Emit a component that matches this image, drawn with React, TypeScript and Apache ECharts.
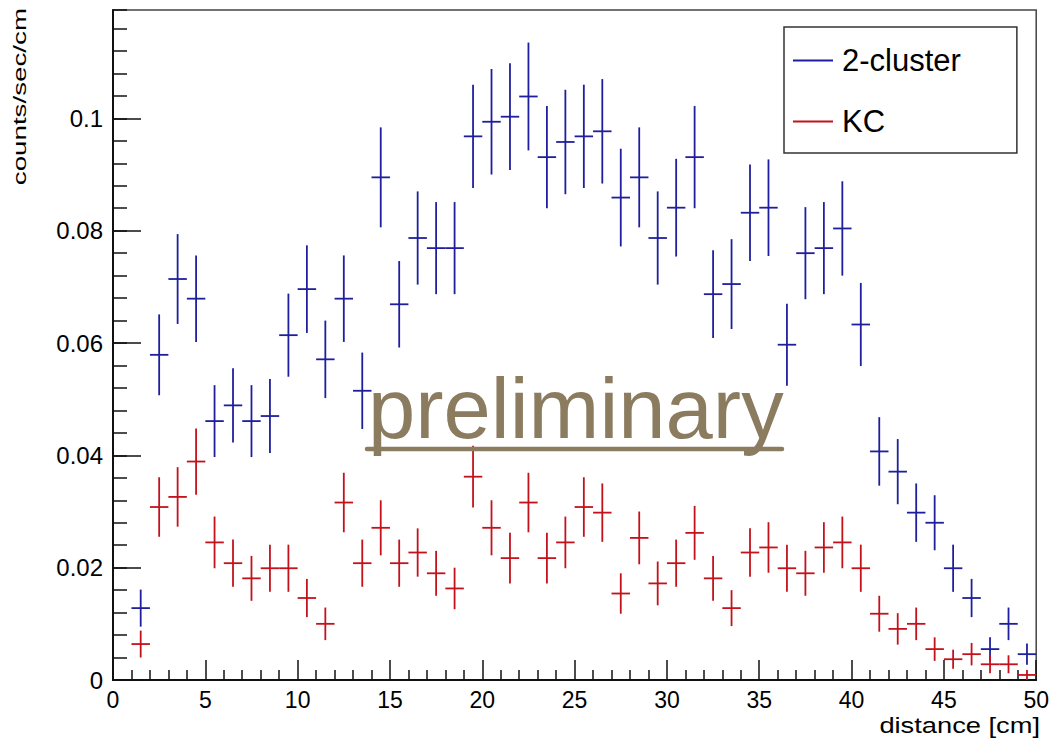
import React, { useEffect, useRef } from "react";
import * as echarts from "echarts";

const binCenters = [
  1.5, 2.5, 3.5, 4.5, 5.5, 6.5, 7.5, 8.5, 9.5, 10.5,
  11.5, 12.5, 13.5, 14.5, 15.5, 16.5, 17.5, 18.5, 19.5, 20.5,
  21.5, 22.5, 23.5, 24.5, 25.5, 26.5, 27.5, 28.5, 29.5, 30.5,
  31.5, 32.5, 33.5, 34.5, 35.5, 36.5, 37.5, 38.5, 39.5, 40.5,
  41.5, 42.5, 43.5, 44.5, 45.5, 46.5, 47.5, 48.5, 49.5,
];

const twoClusterValues = [
  0.0128, 0.0579, 0.0714, 0.0679, 0.0461, 0.0489, 0.0461, 0.047, 0.0614, 0.0696,
  0.0571, 0.0679, 0.0515, 0.0895, 0.0669, 0.0787, 0.0769, 0.0769, 0.0968, 0.0994,
  0.1003, 0.1039, 0.0931, 0.0958, 0.0968, 0.0977, 0.0859, 0.0895, 0.0787, 0.0841,
  0.0931, 0.0687, 0.0705, 0.0832, 0.0841, 0.0597, 0.076, 0.0769, 0.0804, 0.0633,
  0.0407, 0.0371, 0.0298, 0.028, 0.0199, 0.0146, 0.0055, 0.01, 0.0046,
];
const twoClusterErrors = [
  0.0033, 0.0072, 0.008, 0.0077, 0.0064, 0.0066, 0.0064, 0.0066, 0.0074, 0.0078,
  0.0069, 0.0077, 0.0068, 0.0089, 0.0077, 0.0083, 0.0082, 0.0082, 0.0092, 0.0094,
  0.0095, 0.0096, 0.0091, 0.0093, 0.0092, 0.0093, 0.0087, 0.0089, 0.0083, 0.0087,
  0.0091, 0.0078, 0.008, 0.0086, 0.0086, 0.0073, 0.0082, 0.0082, 0.0084, 0.0074,
  0.0061, 0.0058, 0.0052, 0.0049, 0.0042, 0.0034, 0.0021, 0.0029, 0.0019,
];

const kcValues = [
  0.0064, 0.0308, 0.0326, 0.0389, 0.0245, 0.0208, 0.0181, 0.0199, 0.0199, 0.0146,
  0.01, 0.0316, 0.0208, 0.0271, 0.0208, 0.0227, 0.019, 0.0163, 0.0362, 0.0271,
  0.0217, 0.0316, 0.0217, 0.0245, 0.0308, 0.0298, 0.0154, 0.0253, 0.0172, 0.0208,
  0.0262, 0.0181, 0.0128, 0.0227, 0.0236, 0.0199, 0.019, 0.0236, 0.0245, 0.0199,
  0.0118, 0.0091, 0.01, 0.0055, 0.0037, 0.0046, 0.0028, 0.0028, 0.0009,
];
const kcErrors = [
  0.0024, 0.0053, 0.0053, 0.0059, 0.0046, 0.0042, 0.004, 0.0042, 0.0042, 0.0034,
  0.0029, 0.0053, 0.0042, 0.0049, 0.0042, 0.0043, 0.004, 0.0037, 0.0055, 0.0049,
  0.0045, 0.0053, 0.0045, 0.0046, 0.0053, 0.0052, 0.0036, 0.0047, 0.0039, 0.0042,
  0.0048, 0.004, 0.0032, 0.0043, 0.0045, 0.0042, 0.004, 0.0045, 0.0046, 0.0042,
  0.0032, 0.0028, 0.0029, 0.0021, 0.0017, 0.002, 0.0016, 0.0016, 0.0009,
];

const binWidth = 1;
const xMin = 0;
const xMax = 50;
const xInterval = 5;
const yMin = 0;
const yMax = 0.1193;
const yInterval = 0.02;
const yMinorInterval = 0.004;

const seriesNames = ["2-cluster", "KC"];
const BLUE = "#1f1f9e";
const RED = "#c4121c";
const FONT = "'Liberation Sans', Arial, Helvetica, sans-serif";

function makeErrorSeries(name: string, color: string, values: number[], errors: number[]) {
  return {
    name,
    type: "custom",
    clip: true,
    itemStyle: { color },
    encode: { x: 0, y: 1 },
    data: binCenters.map((c, i) => [c, values[i], errors[i]]),
    renderItem: (params: any, api: any) => {
      const x = api.value(0);
      const y = api.value(1);
      const e = api.value(2);
      const left = api.coord([x - binWidth / 2, y]);
      const right = api.coord([x + binWidth / 2, y]);
      const top = api.coord([x, y + e]);
      const bot = api.coord([x, Math.max(0, y - e)]);
      const style = { stroke: color, lineWidth: 1.8 };
      return {
        type: "group",
        children: [
          { type: "line", shape: { x1: left[0], y1: left[1], x2: right[0], y2: right[1] }, style },
          { type: "line", shape: { x1: top[0], y1: top[1], x2: bot[0], y2: bot[1] }, style },
        ],
      };
    },
  };
}

export default function App() {
  const ref = useRef<HTMLDivElement>(null);
  useEffect(() => {
    if (!ref.current) return;
    const chart = echarts.init(ref.current, undefined, { renderer: "svg" });
    chart.setOption({
      animation: false,
      backgroundColor: "#ffffff",
      color: [BLUE, RED],
      grid: {
        left: 113,
        top: 10,
        right: 12,
        bottom: 59,
        show: true,
        borderColor: "#444",
        borderWidth: 1.5,
        backgroundColor: "transparent",
      },
      legend: {
        orient: "vertical",
        left: 784,
        top: 27,
        data: seriesNames,
        icon: "rect",
        itemWidth: 40,
        itemHeight: 2,
        itemGap: 30,
        padding: [18, 56, 16, 9],
        backgroundColor: "#ffffff",
        borderColor: "#333",
        borderWidth: 1.5,
        borderRadius: 0,
        textStyle: { fontSize: 31, color: "#000", fontFamily: FONT, padding: [0, 0, 0, 4] },
      },
      xAxis: {
        type: "value",
        min: xMin,
        max: xMax,
        interval: xInterval,
        axisLine: { show: true, onZero: false, lineStyle: { color: "#111", width: 2 } },
        axisTick: { show: true, inside: true, length: 20, lineStyle: { color: "#111", width: 1.5 } },
        minorTick: { show: true, splitNumber: 5, length: 10, lineStyle: { color: "#111", width: 1.5 } },
        axisLabel: { fontSize: 23, color: "#000", fontFamily: FONT, margin: 8 },
        splitLine: { show: false },
      },
      yAxis: [
        {
          type: "value",
          position: "left",
          min: yMin,
          max: yMax,
          interval: yInterval,
          axisLine: { show: true, onZero: false, lineStyle: { color: "#111", width: 2 } },
          axisTick: { show: true, inside: true, length: 28, lineStyle: { color: "#111", width: 1.5 } },
          axisLabel: {
            fontSize: 24,
            color: "#000",
            fontFamily: FONT,
            margin: 10,
            showMaxLabel: false,
            formatter: (v: number) => (v === 0 ? "0" : String(+v.toFixed(3))),
          },
          splitLine: { show: false },
        },
        {
          type: "value",
          position: "left",
          min: yMin,
          max: yMax,
          interval: yMinorInterval,
          axisLine: { show: false },
          axisTick: { show: true, inside: true, length: 14, lineStyle: { color: "#111", width: 1.5 } },
          axisLabel: { show: false },
          splitLine: { show: false },
        },
      ],
      series: [
        makeErrorSeries(seriesNames[0], BLUE, twoClusterValues, twoClusterErrors),
        makeErrorSeries(seriesNames[1], RED, kcValues, kcErrors),
      ],
      graphic: [
        {
          type: "text",
          x: 19,
          y: 8,
          rotation: Math.PI / 2,
          scaleX: 1.46,
          style: {
            text: "counts/sec/cm",
            fontSize: 19,
            fontFamily: FONT,
            fill: "#000",
            align: "right",
            verticalAlign: "middle",
          },
        },
        {
          type: "text",
          x: 1040,
          y: 725,
          scaleX: 1.24,
          style: {
            text: "distance [cm]",
            fontSize: 22,
            fontFamily: FONT,
            fill: "#000",
            align: "right",
            verticalAlign: "middle",
          },
        },
        {
          type: "text",
          x: 368,
          y: 408,
          z: 10,
          style: {
            text: "preliminary",
            fontSize: 85,
            fontFamily: FONT,
            fill: "#8b7b5f",
            align: "left",
            verticalAlign: "middle",
          },
        },
        {
          type: "line",
          z: 10,
          shape: { x1: 367, y1: 449, x2: 782, y2: 449 },
          style: { stroke: "#8b7b5f", lineWidth: 4.5, lineCap: "round" },
        },
      ],
    });
    return () => chart.dispose();
  }, []);
  return (
    <div
      ref={ref}
      style={{ position: "fixed", left: 0, top: 0, width: 1052, height: 739, background: "#fff" }}
    />
  );
}
